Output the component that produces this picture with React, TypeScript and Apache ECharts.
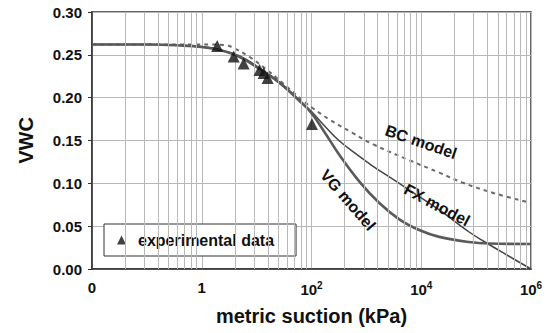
import React, { useEffect, useRef } from "react";
import * as echarts from "echarts";

// Matric suction (kPa) and volumetric water content for each model curve
const vgSuction = [0.01, 0.113, 0.398, 1, 2.12, 4.91, 11.3, 26.2, 60.5, 100, 172, 323, 746, 1722, 3981, 9200, 21240, 74600, 172200, 1e6];
const vgVwc = [0.262, 0.262, 0.2609, 0.2591, 0.2556, 0.2475, 0.2335, 0.2171, 0.1961, 0.182, 0.16, 0.133, 0.102, 0.077, 0.058, 0.0455, 0.0375, 0.0315, 0.0298, 0.0292];

const fxSuction = [0.01, 0.113, 0.398, 1, 2.12, 4.91, 11.3, 26.2, 60.5, 100, 172, 323, 746, 1285, 2618, 5337, 21240, 74600, 139700, 351100, 1e6];
const fxVwc = [0.262, 0.262, 0.2612, 0.2597, 0.2562, 0.2486, 0.2346, 0.2183, 0.1973, 0.1838, 0.1672, 0.1494, 0.1315, 0.1205, 0.1075, 0.0945, 0.0689, 0.0432, 0.0321, 0.0169, 0];

const bcSuction = [0.01, 1.4, 2.62, 3.66, 7.46, 17.2, 39.8, 74.6, 104, 212, 556, 1285, 6050, 21240, 55600, 212400, 1e6];
const bcVwc = [0.262, 0.262, 0.2615, 0.2585, 0.2475, 0.23, 0.2101, 0.195, 0.188, 0.1745, 0.159, 0.146, 0.127, 0.1125, 0.101, 0.0885, 0.077];

// Measured points
const expSuction = [1.91, 3.82, 5.8, 11.3, 13.4, 15.85, 102];
const expVwc = [0.2603, 0.248, 0.24, 0.2323, 0.2288, 0.223, 0.1693];

// Major ticks of the base-100 suction axis
const xMajorTicks = [0.01, 1, 100, 1e4, 1e6];

const FONT = "'Liberation Sans', Arial, sans-serif";
const GRID_GREY = "#b8b8b8";

const zip = (xs: number[], ys: number[]) => xs.map((x, i) => [x, ys[i]]);

// Intermediate vertical gridlines inside each major interval
const minorLines = () => {
  const out: { xAxis: number }[] = [];
  for (let k = 0; k < xMajorTicks.length - 1; k++) {
    for (let m = 2; m <= 9; m++) out.push({ xAxis: xMajorTicks[k] * m * m });
  }
  return out;
};

const curveLabel = (text: string, x: number, y: number, deg: number) => ({
  type: "text",
  x,
  y,
  rotation: (deg * Math.PI) / 180,
  z: 10,
  style: { text, font: `bold 16px ${FONT}`, fill: "#111", align: "center", verticalAlign: "middle" },
});

export default function App() {
  const ref = useRef<HTMLDivElement>(null);

  useEffect(() => {
    if (!ref.current) return;
    const chart = echarts.init(ref.current, undefined, { renderer: "svg" });

    const option: any = {
      animation: false,
      backgroundColor: "#fff",
      grid: {
        left: 92,
        right: 20,
        top: 12,
        bottom: 64,
        show: true,
        borderColor: "#333",
        borderWidth: 1.5,
        backgroundColor: "#fff",
      },
      xAxis: {
        type: "log",
        logBase: 100,
        min: xMajorTicks[0],
        max: xMajorTicks[xMajorTicks.length - 1],
        axisLine: { show: true, lineStyle: { color: "#333", width: 1.5 } },
        axisTick: { show: false },
        splitLine: { show: true, lineStyle: { color: GRID_GREY, width: 1 } },
        axisLabel: {
          fontFamily: FONT,
          fontSize: 15,
          fontWeight: "bold",
          color: "#111",
          margin: 11,
          formatter: (v: number) => {
            if (v < 0.1) return "0";
            const e = Math.round(Math.log10(v));
            if (e === 0) return "1";
            return "10{s|" + e + "}";
          },
          rich: {
            s: { fontFamily: FONT, fontSize: 10, fontWeight: "bold", color: "#111", padding: [0, 0, 8, 0] },
          },
        },
        name: "metric suction (kPa)",
        nameLocation: "middle",
        nameGap: 37,
        nameTextStyle: { fontFamily: FONT, fontSize: 20, fontWeight: "bold", color: "#111" },
      },
      yAxis: {
        type: "value",
        min: 0,
        max: 0.3,
        interval: 0.05,
        axisLine: { show: true, lineStyle: { color: "#333", width: 1.5 } },
        axisTick: { show: true, length: 4, lineStyle: { color: "#333" } },
        splitLine: { show: true, lineStyle: { color: GRID_GREY, width: 1 } },
        axisLabel: {
          fontFamily: FONT,
          fontSize: 15,
          fontWeight: "bold",
          color: "#111",
          margin: 10,
          formatter: (v: number) => v.toFixed(2),
        },
        name: "VWC",
        nameLocation: "middle",
        nameGap: 56,
        nameTextStyle: { fontFamily: FONT, fontSize: 20, fontWeight: "bold", color: "#111" },
      },
      legend: {
        data: ["experimental data"],
        left: 104,
        top: 224,
        orient: "horizontal",
        backgroundColor: "#fff",
        borderColor: "#333",
        borderWidth: 1,
        borderRadius: 0,
        padding: [8, 22, 8, 13],
        icon: "triangle",
        itemWidth: 9,
        itemHeight: 9,
        textStyle: { fontFamily: FONT, fontSize: 16, fontWeight: "bold", color: "#111", padding: [0, 0, 0, 7] },
      },
      series: [
        {
          name: "grid-minor",
          type: "line",
          data: [],
          silent: true,
          z: 1,
          markLine: {
            silent: true,
            symbol: ["none", "none"],
            label: { show: false },
            lineStyle: { color: GRID_GREY, width: 1, type: "solid" },
            data: minorLines(),
          },
        },
        {
          name: "BC model",
          type: "line",
          data: zip(bcSuction, bcVwc),
          showSymbol: false,
          smooth: 0.4,
          z: 3,
          lineStyle: { color: "#6a6a6a", width: 2, type: [4, 4] },
        },
        {
          name: "FX model",
          type: "line",
          data: zip(fxSuction, fxVwc),
          showSymbol: false,
          smooth: 0.4,
          z: 4,
          lineStyle: { color: "#444", width: 1.5 },
        },
        {
          name: "VG model",
          type: "line",
          data: zip(vgSuction, vgVwc),
          showSymbol: false,
          smooth: 0.4,
          z: 4,
          lineStyle: { color: "#5a5a5a", width: 2.6 },
        },
        {
          name: "experimental data",
          type: "scatter",
          data: zip(expSuction, expVwc),
          symbol: "triangle",
          symbolSize: 12,
          z: 5,
          itemStyle: { color: "#111" },
        },
      ],
      graphic: [
        curveLabel("BC model", 421, 142, -19),
        curveLabel("FX model", 437, 205, -28),
        curveLabel("VG model", 348, 200, -49),
      ],
    };

    chart.setOption(option);
    return () => chart.dispose();
  }, []);

  return <div ref={ref} style={{ width: 551, height: 333, position: "absolute", left: 0, top: 0 }} />;
}
